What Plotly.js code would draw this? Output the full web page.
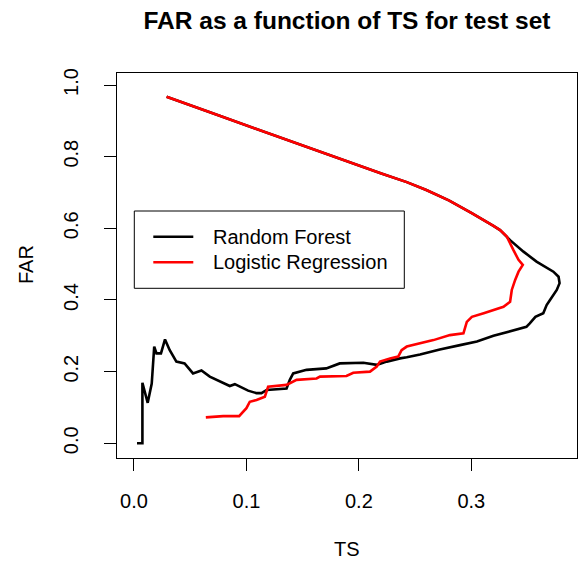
<!DOCTYPE html>
<html>
<head>
<meta charset="utf-8">
<script src="https://cdn.plot.ly/plotly-3.0.1.min.js"></script>
<style>html,body{margin:0;padding:0;background:#fff;}#chart{width:581px;height:562px;}</style>
</head>
<body>
<div id="chart"></div>
<script>
// ---- data ----
const rfTS  = [0.0027,0.0075,0.0075,0.0122,0.0158,0.018,0.020,0.024,0.0276,0.0318,0.0377,0.045,0.0525,0.060,0.0674,0.0763,0.0852,0.0897,0.1015,0.109,0.1134,0.118,0.1357,0.1386,0.1416,0.1535,0.171,0.183,0.204,0.216,0.2248,0.2366,0.2426,0.2544,0.272,0.29,0.305,0.3197,0.3375,0.349,0.352,0.357,0.364,0.367,0.370,0.376,0.3785,0.3776,0.373,0.358,0.3464,0.3345,0.3256,0.3197,0.30,0.28,0.26,0.2426,0.22,0.19,0.15,0.11,0.07,0.029];
const rfFAR = [0.0,0.0,0.169,0.113,0.167,0.27,0.251,0.251,0.29,0.26,0.228,0.223,0.195,0.203,0.186,0.172,0.160,0.165,0.147,0.140,0.140,0.149,0.153,0.177,0.195,0.205,0.209,0.223,0.225,0.219,0.228,0.237,0.240,0.248,0.262,0.274,0.284,0.300,0.316,0.325,0.335,0.353,0.363,0.386,0.400,0.428,0.447,0.465,0.479,0.507,0.535,0.567,0.595,0.607,0.643,0.678,0.707,0.729,0.753,0.787,0.832,0.876,0.921,0.967];
const lrTS  = [0.0639,0.0793,0.0935,0.100,0.103,0.109,0.1164,0.1193,0.1357,0.1446,0.1624,0.1654,0.189,0.195,0.2099,0.2159,0.2188,0.2277,0.235,0.238,0.2426,0.2544,0.2663,0.281,0.293,0.296,0.3005,0.311,0.3197,0.3286,0.3345,0.336,0.339,0.342,0.3458,0.342,0.3375,0.3316,0.3256,0.3197,0.30,0.28,0.26,0.2426,0.22,0.19,0.15,0.11,0.07,0.029];
const lrFAR = [0.0725,0.076,0.076,0.098,0.116,0.121,0.130,0.158,0.163,0.177,0.181,0.186,0.188,0.197,0.200,0.214,0.228,0.237,0.242,0.260,0.270,0.279,0.288,0.302,0.307,0.339,0.353,0.363,0.372,0.381,0.395,0.428,0.456,0.479,0.498,0.512,0.539,0.577,0.595,0.607,0.643,0.678,0.707,0.729,0.753,0.787,0.832,0.876,0.921,0.967];
const seriesNames = ["Random Forest","Logistic Regression"];
const seriesColors = ["#000000","#ff0000"];
const xTickVals = [0,0.1,0.2,0.3];
const xTickText = ["0.0","0.1","0.2","0.3"];
const yTickVals = [0,0.2,0.4,0.6,0.8,1.0];
const yTickText = ["0.0","0.2","0.4","0.6","0.8","1.0"];
const chartTitle = "FAR as a function of TS for test set";
const xTitle = "TS";
const yTitle = "FAR";

// ---- layout helpers ----
const FONT = "Liberation Sans, Arial, Helvetica, sans-serif";
const FS = 20;
const W = 581, H = 562, ML = 117, MR = 4, MT = 73, MB = 104;
const PW = W - ML - MR, PH = H - MT - MB;
const px = v => (v - ML) / PW;        // pixel x -> paper x
const py = v => (H - MB - v) / PH;    // pixel y -> paper y

const traces = [
  {x: rfTS, y: rfFAR, name: seriesNames[0], type: "scatter", mode: "lines",
   line: {color: seriesColors[0], width: 2.6}, showlegend: false, hoverinfo: "skip"},
  {x: lrTS, y: lrFAR, name: seriesNames[1], type: "scatter", mode: "lines",
   line: {color: seriesColors[1], width: 2.6}, showlegend: false, hoverinfo: "skip"}
];

const axisCommon = {
  showgrid: false, zeroline: false, showline: true, mirror: true,
  linecolor: "#000", linewidth: 1, ticks: "outside", ticklen: 12,
  tickwidth: 1, tickcolor: "#000", tickfont: {family: FONT, size: FS, color: "#000"}
};

const legendRows = [236.7, 262.3];
const shapes = [
  {type: "rect", xref: "paper", yref: "paper", x0: px(134.3), x1: px(404.3), y0: py(288.3), y1: py(211),
   line: {color: "#000", width: 1}, fillcolor: "rgba(0,0,0,0)"}
];
const annotations = [
  {text: xTitle, xref: "paper", yref: "paper", x: px(347), y: py(549), xanchor: "center", yanchor: "middle",
   showarrow: false, font: {family: FONT, size: FS, color: "#000"}},
  {text: yTitle, xref: "paper", yref: "paper", x: px(26), y: py(265), xanchor: "center", yanchor: "middle",
   textangle: -90, showarrow: false, font: {family: FONT, size: FS, color: "#000"}}
];
seriesNames.forEach((n, i) => {
  shapes.push({type: "line", xref: "paper", yref: "paper", x0: px(153.3), x1: px(193.3),
    y0: py(legendRows[i]), y1: py(legendRows[i]), line: {color: seriesColors[i], width: 2.6}});
  annotations.push({text: n, xref: "paper", yref: "paper", x: px(211), y: py(legendRows[i]),
    xanchor: "left", yanchor: "middle", showarrow: false, font: {family: FONT, size: FS, color: "#000"}});
});

const layout = {
  width: W, height: H,
  margin: {l: ML, r: MR, t: MT, b: MB, pad: 0},
  paper_bgcolor: "#fff", plot_bgcolor: "#fff",
  showlegend: false,
  title: {text: "<b>" + chartTitle + "</b>", xref: "paper", x: 0.5, xanchor: "center",
          yref: "container", y: 1 - 20 / H, yanchor: "middle",
          font: {family: FONT, size: 24.5, color: "#000"}},
  xaxis: Object.assign({}, axisCommon, {range: [-0.0151, 0.394], tickvals: xTickVals, ticktext: xTickText,
          ticklabelstandoff: 13}),
  yaxis: Object.assign({}, axisCommon, {range: [-0.041, 1.0335], tickvals: yTickVals, ticktext: yTickText,
          tickangle: -90, ticklabelstandoff: 18}),
  shapes: shapes,
  annotations: annotations
};

Plotly.newPlot("chart", traces, layout, {staticPlot: true, displayModeBar: false});
</script>
</body>
</html>
